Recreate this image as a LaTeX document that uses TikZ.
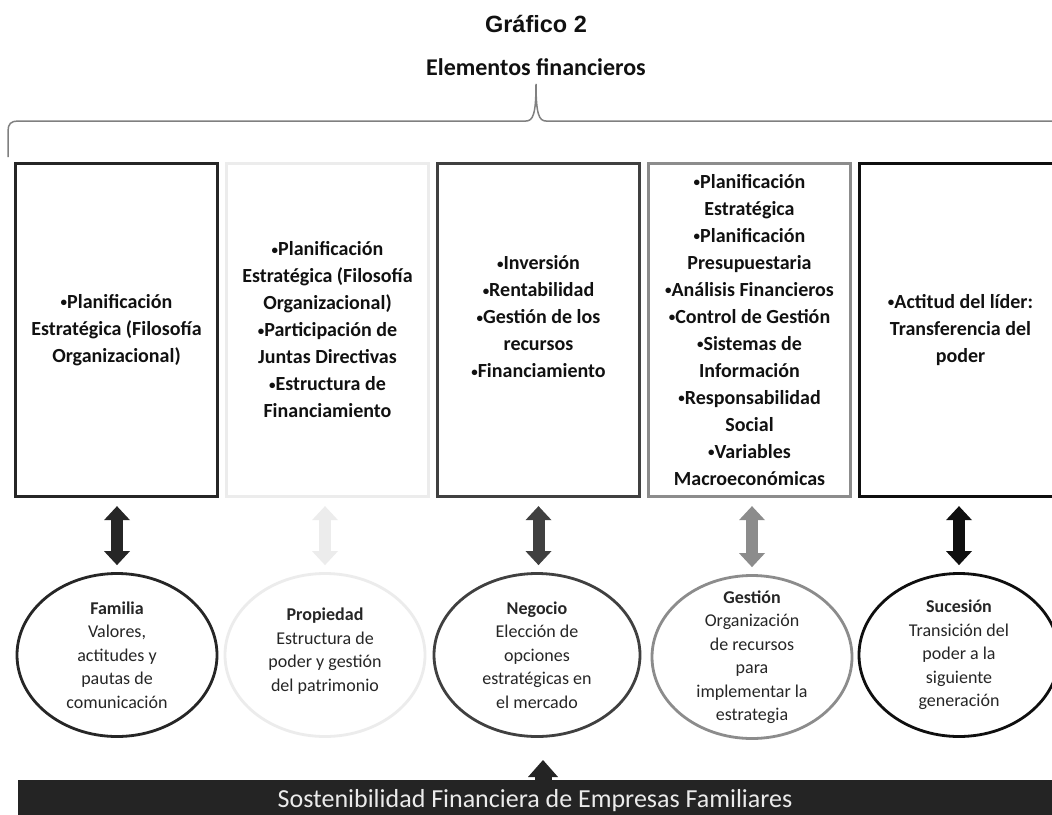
\documentclass[tikz,border=0pt]{standalone}
\usepackage{fontspec}
\setmainfont{Carlito}
\newfontfamily\arialfont{Liberation Sans}
\usetikzlibrary{shapes.geometric,arrows.meta}
\definecolor{cA}{HTML}{262626}
\definecolor{cB}{HTML}{ECECEC}
\definecolor{cC}{HTML}{404040}
\definecolor{cD}{HTML}{8C8C8C}
\definecolor{cE}{HTML}{0F0F0F}
\definecolor{cBrace}{HTML}{808080}
\definecolor{cBar}{HTML}{242424}
\definecolor{cTxt}{HTML}{111111}
\definecolor{cETxt}{HTML}{262626}
\newcommand\bul{{\fontsize{13}{13}\selectfont\raisebox{1.5pt}{•}}}
\tikzset{
  box/.style={rectangle, line width=3.3pt, minimum width=202pt, minimum height=333pt,
    align=center, inner sep=0pt, text=cTxt,
    font=\fontsize{20}{27}\selectfont\bfseries},
  ell/.style={ellipse, line width=2.8pt, minimum width=200pt, minimum height=163pt, inner sep=0pt},
  etext/.style={align=center, inner sep=0pt, text=cETxt, font=\fontsize{18}{23.5}\selectfont},
  dbl/.style={line width=12pt, shorten <=8pt, shorten >=7pt,
    {Triangle[width=26pt,length=14pt,line width=0pt]}-{Triangle[width=26pt,length=14pt,line width=0pt]}},
  uparrow/.style={line width=17pt, -{Triangle[width=30pt,length=17pt,line width=0pt]}},
}
\begin{document}
\begin{tikzpicture}[x=1pt,y=-1pt]
\useasboundingbox (0,0) rectangle (1052,814);
\clip (0,0) rectangle (1052,814);
\fill[white] (0,0) rectangle (1052,814);

% titles
\node[anchor=base, inner sep=0pt, font=\arialfont\bfseries\fontsize{23.5}{28}\selectfont, text=cTxt] (title) at (536,32) {Gráfico 2};
\node[anchor=base, inner sep=0pt, font=\bfseries\fontsize{24}{28}\selectfont, text=cTxt] (sub) at (536,75) {Elementos financieros};

% brace
\draw[cBrace, line width=1.5pt]
  (8,157) -- (8,131) .. controls (8,124) and (11,121) .. (18,121)
  -- (526,121) .. controls (533,121) and (536,114) .. (536,84)
  .. controls (536,114) and (539,121) .. (546,121) -- (1060,121);

% boxes
\node[box, draw=cA] (b1) at (116.5,330) {\bul Planificación\\Estratégica (Filosofía\\Organizacional)};
\node[box, draw=cB] (b2) at (327.5,330) {\bul Planificación\\Estratégica (Filosofía\\Organizacional)\\\bul Participación de\\Juntas Directivas\\\bul Estructura de\\Financiamiento};
\node[box, draw=cC] (b3) at (538.5,330) {\bul Inversión\\\bul Rentabilidad\\\bul Gestión de los\\recursos\\\bul Financiamiento\\\mbox{}};
\node[box, draw=cD] (b4) at (749.5,330) {\bul Planificación\\Estratégica\\\bul Planificación\\Presupuestaria\\\bul Análisis Financieros\\\bul Control de Gestión\\\bul Sistemas de\\Información\\\bul Responsabilidad\\Social\\\bul Variables\\Macroeconómicas};
\node[box, draw=cE] (b5) at (960.5,330) {\bul Actitud del líder:\\Transferencia del\\poder};

% ellipses
\node[ell, draw=cA] (e1) at (117,655) {};
\node[ell, draw=cB] (e2) at (325,655) {};
\node[ell, draw=cC, minimum width=206pt] (e3) at (537,655) {};
\node[ell, draw=cD] (e4) at (752,657) {};
\node[ell, draw=cE] (e5) at (959,655) {};

\node[etext] (t1) at (e1.center) {\textbf{Familia}\\Valores,\\actitudes y\\pautas de\\comunicación};
\node[etext] (t2) at ([yshift=4pt]e2.center) {\textbf{Propiedad}\\Estructura de\\poder y gestión\\del patrimonio};
\node[etext] (t3) at (e3.center) {\textbf{Negocio}\\Elección de\\opciones\\estratégicas en\\el mercado};
\node[etext] (t4) at (e4.center) {\textbf{Gestión}\\Organización\\de recursos\\para\\implementar la\\estrategia};
\node[etext] (t5) at (e5.center) {\textbf{Sucesión}\\Transición del\\poder a la\\siguiente\\generación};

% double arrows
\draw[dbl, cA] (b1.south -| e1) -- (e1.north);
\draw[dbl, cB] (b2.south -| e2) -- (e2.north);
\draw[dbl, cC] (b3.south) -- (b3.south |- e3.north);
\draw[dbl, cD] (b4.south -| e4) -- (e4.north);
\draw[dbl, cE] (b5.south -| e5) -- (e5.north);

% bottom bar
\node[rectangle, fill=cBar, inner sep=0pt, minimum width=1060pt, minimum height=50pt] (bar) at (548,805) {};
\node[anchor=base, inner sep=0pt, text=white!92!black, font=\fontsize{26}{30}\selectfont] (bartext) at (535,807) {Sostenibilidad Financiera de Empresas Familiares};
\coordinate (upbase) at (543,782);
\coordinate (uptip) at (543,760);
\draw[uparrow, cBar] (upbase) -- (uptip);
\end{tikzpicture}
\end{document}
